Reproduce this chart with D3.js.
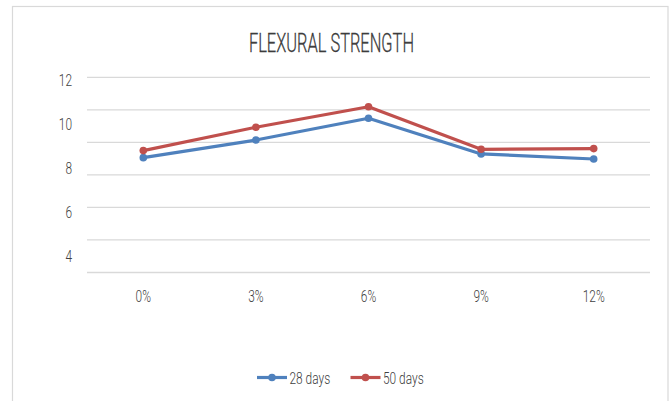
<!DOCTYPE html>
<html>
<head>
<meta charset="utf-8">
<script src="https://cdn.jsdelivr.net/npm/d3@7"></script>
<style>
  html, body { margin: 0; padding: 0; background: #fff; }
  svg { display: block; }
  text { font-family: Roboto, "Liberation Sans", Arial, sans-serif; font-weight: 300; fill: #404040; }
</style>
</head>
<body>
<svg id="chart" width="671" height="401"></svg>
<script>
// Mix ratios (x categories)
const categories = ["0%", "3%", "6%", "9%", "12%"];
// Flexural strength per curing age
const days28 = [8.44, 9.24, 10.23, 8.61, 8.38];
const days50 = [8.76, 9.82, 10.75, 8.82, 8.85];
const seriesNames = ["28 days", "50 days"];
const seriesColors = ["#4f81bd", "#c0504d"];
// Value axis labels
const yTicks = [4, 6, 8, 10, 12];
const gridCount = 7;

const plot = { left: 87, right: 650, top: 77.3, bottom: 272.5 };

const svg = d3.select("#chart");

// Compress text horizontally about its anchor point
function squeeze(sel, k) {
  sel.each(function () {
    const t = d3.select(this);
    const x = +t.attr("x") || 0, y = +t.attr("y") || 0;
    t.attr("x", 0).attr("y", 0)
     .attr("transform", `translate(${x},${y}) scale(${k},1)`);
  });
}

// Chart frame
svg.append("rect")
  .attr("x", 12.5).attr("y", 6.5)
  .attr("width", 655.5).attr("height", 420)
  .attr("fill", "#fff").attr("stroke", "#d9d9d9").attr("stroke-width", 1.2);

// Title
svg.append("text")
  .attr("x", 331.5).attr("y", 51.5)
  .attr("text-anchor", "middle")
  .attr("font-size", 26.5)
  .attr("fill", "#333333")
  .attr("stroke", "#333333").attr("stroke-width", 0.3)
  .text("FLEXURAL STRENGTH")
  .call(squeeze, 0.62);

// Scales
const x = d3.scaleBand().domain(categories).range([plot.left, plot.right]);
const y = d3.scaleLinear().domain([4, 12]).range([255.5, 79.2]);
const grid = d3.scaleLinear().domain([0, gridCount - 1]).range([plot.bottom, plot.top]);

// Horizontal gridlines
svg.append("g")
  .selectAll("line")
  .data(d3.range(gridCount))
  .join("line")
  .attr("x1", plot.left).attr("x2", plot.right)
  .attr("y1", d => grid(d)).attr("y2", d => grid(d))
  .attr("stroke", "#d9d9d9").attr("stroke-width", 1.3);

// Value axis
const yAxis = svg.append("g")
  .attr("transform", "translate(72,0)")
  .call(d3.axisLeft(y).tickValues(yTicks).tickSize(0).tickPadding(0).tickFormat(d3.format("d")));
yAxis.select(".domain").remove();
yAxis.selectAll("text")
  .attr("font-size", 17).attr("font-family", null).attr("fill", "#404040")
  .attr("dy", "0.36em")
  .call(squeeze, 0.7);

// Category axis
const xAxis = svg.append("g")
  .attr("transform", "translate(0,290)")
  .call(d3.axisBottom(x).tickSize(0).tickPadding(0));
xAxis.select(".domain").remove();
xAxis.selectAll("text")
  .attr("font-size", 17).attr("font-family", null).attr("fill", "#404040")
  .attr("dy", "0.72em")
  .call(squeeze, 0.7);

// Series lines with markers
const series = [days28, days50];
const line = d3.line()
  .x((d, i) => x(categories[i]) + x.bandwidth() / 2)
  .y(d => y(d));

series.forEach((vals, s) => {
  const g = svg.append("g");
  g.append("path")
    .datum(vals)
    .attr("d", line)
    .attr("fill", "none")
    .attr("stroke", seriesColors[s])
    .attr("stroke-width", 3.2)
    .attr("stroke-linejoin", "round");
  g.selectAll("circle")
    .data(vals)
    .join("circle")
    .attr("cx", (d, i) => x(categories[i]) + x.bandwidth() / 2)
    .attr("cy", d => y(d))
    .attr("r", 3.8)
    .attr("fill", seriesColors[s]);
});

// Legend
const legendItems = [
  { x: 257, textX: 289.5 },
  { x: 350.5, textX: 383 }
];
const legend = svg.append("g").attr("transform", "translate(0,377.5)");
seriesNames.forEach((name, s) => {
  const it = legendItems[s];
  legend.append("line")
    .attr("x1", it.x).attr("x2", it.x + 30)
    .attr("y1", 0).attr("y2", 0)
    .attr("stroke", seriesColors[s]).attr("stroke-width", 3.2);
  legend.append("circle")
    .attr("cx", it.x + 15).attr("cy", 0).attr("r", 3.8)
    .attr("fill", seriesColors[s]);
  legend.append("text")
    .attr("x", it.textX).attr("y", 6)
    .attr("font-size", 17)
    .text(name)
    .call(squeeze, 0.7);
});
</script>
</body>
</html>
